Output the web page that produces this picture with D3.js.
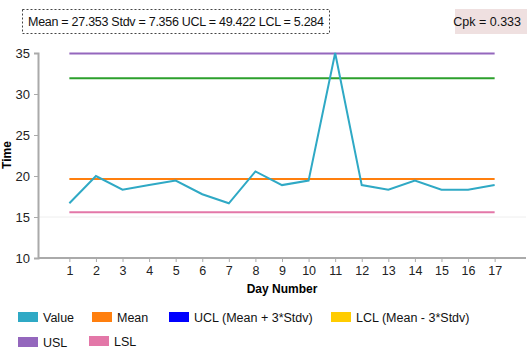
<!DOCTYPE html>
<html><head><meta charset="utf-8">
<script src="https://cdn.jsdelivr.net/npm/d3@7"></script>
<style>body{margin:0;background:#fff}svg{font-family:"Liberation Sans",Arial,sans-serif}</style>
</head><body>
<svg id="c" width="532" height="355"></svg>
<script>
const days = [1,2,3,4,5,6,7,8,9,10,11,12,13,14,15,16,17];
const values = [16.67,20,18.33,18.89,19.44,17.78,16.67,20.56,18.89,19.44,35,18.89,18.33,19.44,18.33,18.33,18.89];
const meanLine = 19.64;
const uclLine = 31.92;
const uslLine = 34.95;
const lslLine = 15.57;
const yTicks = [10,15,20,25,30,35];
const statsText = "Mean = 27.353 Stdv = 7.356 UCL = 49.422 LCL = 5.284";
const cpkText = "Cpk = 0.333";
const legendNames = ["Value","Mean","UCL (Mean + 3*Stdv)","LCL (Mean - 3*Stdv)","USL","LSL"];
const legendColors = ["#2fa9c5","#ff7f0e","#0000ff","#ffcc00","#9467bd","#e377a8"];

const svg = d3.select("#c");
const x = d3.scalePoint().domain(days).range([38,526]).padding(1.18);
const y = d3.scaleLinear().domain([10,35]).range([258,53]);

// faint gridline at 15
svg.append("line").attr("x1",38).attr("x2",526).attr("y1",y(15)).attr("y2",y(15))
  .attr("stroke","#eeeeee").attr("stroke-width",1);

// y axis
const ya = svg.append("g").attr("transform","translate(38,0)")
  .call(d3.axisLeft(y).tickValues(yTicks).tickSize(4).tickPadding(4));
ya.select(".domain").attr("stroke","#aaa").attr("stroke-width",2);
ya.selectAll(".tick line").attr("stroke","#aaa");
ya.selectAll(".tick text").attr("font-size",13).attr("fill","#222").attr("font-family","Liberation Sans, Arial");

// x axis
const xa = svg.append("g").attr("transform","translate(0,258)")
  .call(d3.axisBottom(x).tickSize(4).tickPadding(4));
xa.select(".domain").attr("stroke","#aaa").attr("stroke-width",2).attr("d","M38,0H526");
xa.selectAll(".tick line").attr("stroke","#aaa");
xa.selectAll(".tick text").attr("font-size",12.5).attr("fill","#222").attr("font-family","Liberation Sans, Arial");

// axis titles
svg.append("text").attr("x",282).attr("y",293).attr("text-anchor","middle")
  .attr("font-size",12).attr("font-weight","bold").text("Day Number");
svg.append("text").attr("transform","translate(11,155) rotate(-90)").attr("text-anchor","middle")
  .attr("font-size",12).attr("font-weight","bold").text("Time");

// constant lines
const consts = [[uslLine,"#9467bd"],[uclLine,"#2ca02c"],[meanLine,"#ff7f0e"],[lslLine,"#e377a8"]];
consts.forEach(([v,c])=>{
  svg.append("line").attr("x1",x(days[0])).attr("x2",x(days[days.length-1]))
    .attr("y1",y(v)).attr("y2",y(v)).attr("stroke",c).attr("stroke-width",2);
});

// value line
svg.append("path").datum(values)
  .attr("d",d3.line().x((d,i)=>x(days[i])).y(d=>y(d)))
  .attr("fill","none").attr("stroke","#2fa9c5").attr("stroke-width",2);

// stats box
svg.append("rect").attr("x",22.5).attr("y",9.5).attr("width",307).attr("height",24)
  .attr("fill","none").attr("stroke","#444").attr("stroke-dasharray","2,2");
svg.append("text").attr("x",28).attr("y",26).attr("font-size",12.5).attr("fill","#111")
  .attr("textLength",296).attr("lengthAdjust","spacing").text(statsText);

// cpk box
svg.append("rect").attr("x",455).attr("y",9).attr("width",72).attr("height",25).attr("fill","#efe0e0");
svg.append("text").attr("x",521).attr("y",26).attr("text-anchor","end").attr("font-size",12.5).attr("fill","#111").text(cpkText);

// legend
const legPos = [[18,312],[92,312],[169,312],[331,312],[18,337],[89,336]];
legendNames.forEach((n,i)=>{
  const [lx,ly] = legPos[i];
  svg.append("rect").attr("x",lx).attr("y",ly).attr("width",20).attr("height",10).attr("fill",legendColors[i]);
  svg.append("text").attr("x",lx+25).attr("y",ly+9.5).attr("font-size",12.5).attr("fill","#111").text(n);
});
</script>
</body></html>
